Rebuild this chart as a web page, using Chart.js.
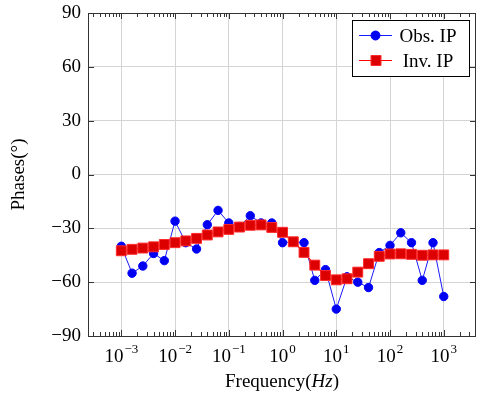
<!DOCTYPE html>
<html>
<head>
<meta charset="utf-8">
<script src="https://cdn.jsdelivr.net/npm/chart.js@4"></script>
<style>
  html, body { margin: 0; padding: 0; background: #fff; }
</style>
</head>
<body>
<canvas id="phaseChart" width="477" height="394"></canvas>
<script>
// frequencies (Hz), 5 per decade
var freq = [0.001, 0.001585, 0.002512, 0.003981, 0.00631,
            0.01, 0.01585, 0.02512, 0.03981, 0.0631,
            0.1, 0.1585, 0.2512, 0.3981, 0.631,
            1, 1.585, 2.512, 3.981, 6.31,
            10, 15.85, 25.12, 39.81, 63.1,
            100, 158.5, 251.2, 398.1, 631, 1000];
var obsPhase = [-40, -55, -51, -44, -48, -26, -38, -41.5, -28, -20,
                -27, -29, -23, -27, -27, -38, -37.5, -38, -59, -53,
                -75, -57, -60, -63, -43.5, -39.5, -32.5, -38, -59, -38, -68];
var invPhase = [-42.5, -41.7, -41, -40.3, -39, -38, -37, -35.6, -33.7, -32,
                -30.6, -29.3, -28.3, -28.1, -29.5, -32.2, -37.5, -43.4, -50.5, -56.3,
                -58.7, -58.1, -54.4, -49.7, -45.6, -44.3, -44.2, -44.5, -45, -44.8, -44.8];
var xDecades = [0.001, 0.01, 0.1, 1, 10, 100, 1000];
var xExponents = ['\u22123', '\u22122', '\u22121', '0', '1', '2', '3'];
var yTicks = [-90, -60, -30, 0, 30, 60, 90];

var FONT = '"Liberation Serif", "Times New Roman", serif';

function noPad(scale) {
  scale.paddingTop = 0;
  scale.paddingBottom = 0;
  scale.paddingLeft = 0;
  scale.paddingRight = 0;
}

var framePlugin = {
  id: 'frame',
  afterDraw: function (chart) {
    var ctx = chart.ctx;
    var a = chart.chartArea;
    var xs = chart.scales.x, ys = chart.scales.y;
    ctx.save();
    ctx.strokeStyle = '#333';
    ctx.lineWidth = 1;
    ctx.beginPath();
    // minor ticks on x (bottom and top, pointing in)
    for (var d = -4; d <= 3; d++) {
      for (var m = 2; m <= 9; m++) {
        var v = m * Math.pow(10, d);
        if (v < xs.min || v > xs.max) continue;
        var px = Math.round(xs.getPixelForValue(v)) + 0.5;
        ctx.moveTo(px, a.bottom); ctx.lineTo(px, a.bottom - 4);
        ctx.moveTo(px, a.top); ctx.lineTo(px, a.top + 4);
      }
    }
    xDecades.forEach(function (v) {
      var px = Math.round(xs.getPixelForValue(v)) + 0.5;
      ctx.moveTo(px, a.bottom); ctx.lineTo(px, a.bottom - 6);
      ctx.moveTo(px, a.top); ctx.lineTo(px, a.top + 6);
    });
    yTicks.forEach(function (v) {
      var py = Math.round(ys.getPixelForValue(v)) + 0.5;
      ctx.moveTo(a.left, py); ctx.lineTo(a.left + 6, py);
      ctx.moveTo(a.right, py); ctx.lineTo(a.right - 6, py);
    });
    ctx.stroke();
    ctx.strokeRect(Math.round(a.left) + 0.5, Math.round(a.top) + 0.5,
                   Math.round(a.right - a.left) - 1, Math.round(a.bottom - a.top));

    // x tick labels 10^n
    ctx.fillStyle = '#000';
    ctx.textBaseline = 'alphabetic';
    xDecades.forEach(function (v, i) {
      var px = xs.getPixelForValue(v);
      ctx.font = '19px ' + FONT;
      var wb = ctx.measureText('10').width;
      ctx.font = '13px ' + FONT;
      var we = ctx.measureText(xExponents[i]).width;
      var x0 = px - (wb + we + 1) / 2;
      ctx.font = '19px ' + FONT;
      ctx.textAlign = 'left';
      ctx.fillText('10', x0, 362);
      ctx.font = '13px ' + FONT;
      ctx.fillText(xExponents[i], x0 + wb + 1, 353);
    });

    // x title with italic Hz
    var parts = [['Frequency(', ''], ['Hz', 'italic '], [')', '']];
    var total = 0;
    parts.forEach(function (p) { ctx.font = p[1] + '19px ' + FONT; total += ctx.measureText(p[0]).width; });
    var cx = (a.left + a.right) / 2 - total / 2;
    parts.forEach(function (p) {
      ctx.font = p[1] + '19px ' + FONT;
      ctx.fillText(p[0], cx, 387);
      cx += ctx.measureText(p[0]).width;
    });

    // legend
    ctx.fillStyle = '#fff';
    ctx.fillRect(352.5, 20.5, 117, 56);
    ctx.strokeStyle = '#000';
    ctx.strokeRect(352.5, 20.5, 117, 56);
    chart.data.datasets.forEach(function (ds, i) {
      var ly = 35.5 + i * 25;
      ctx.strokeStyle = ds.borderColor;
      ctx.lineWidth = ds.borderWidth;
      ctx.beginPath();
      ctx.moveTo(359, ly); ctx.lineTo(392, ly);
      ctx.stroke();
      ctx.fillStyle = ds.pointBackgroundColor;
      ctx.strokeStyle = ds.pointBorderColor;
      ctx.lineWidth = 1;
      ctx.beginPath();
      if (ds.pointStyle === 'rect') {
        ctx.rect(371, ly - 5, 10, 10);
      } else {
        ctx.arc(375.5, ly, 4.5, 0, Math.PI * 2);
      }
      ctx.fill();
      ctx.stroke();
      ctx.fillStyle = '#000';
      ctx.font = '19px ' + FONT;
      ctx.textAlign = 'center';
      ctx.fillText(ds.label, 428, ly + 6);
    });
    ctx.restore();
  }
};

new Chart(document.getElementById('phaseChart'), {
  type: 'line',
  data: {
    datasets: [{
      label: 'Obs. IP',
      data: freq.map(function (f, i) { return { x: f, y: obsPhase[i] }; }),
      borderColor: '#1a1aff',
      borderWidth: 1,
      pointStyle: 'circle',
      pointRadius: 4.2,
      pointBackgroundColor: '#0000f0',
      pointBorderColor: '#0000ff',
      pointBorderWidth: 1,
      tension: 0,
      order: 1
    }, {
      label: 'Inv. IP',
      data: freq.map(function (f, i) { return { x: f, y: invPhase[i] }; }),
      borderColor: '#ff0000',
      borderWidth: 1.2,
      pointStyle: 'rect',
      pointRadius: 7,
      pointBackgroundColor: '#dd0000',
      pointBorderColor: '#ff2a2a',
      pointBorderWidth: 1,
      tension: 0,
      order: 0
    }]
  },
  options: {
    responsive: false,
    animation: false,
    layout: { autoPadding: false, padding: { left: 0, right: 1, top: 13, bottom: 0 } },
    plugins: {
      legend: { display: false },
      tooltip: { enabled: false }
    },
    scales: {
      x: {
        type: 'logarithmic',
        min: Math.pow(10, -3.62),
        max: Math.pow(10, 3.6),
        afterBuildTicks: function (scale) {
          scale.ticks = xDecades.map(function (v) { return { value: v }; });
        },
        afterFit: function (scale) { scale.height = 58; noPad(scale); },
        ticks: { display: false },
        grid: { color: '#d4d4d4', drawTicks: false },
        border: { display: false }
      },
      y: {
        min: -90,
        max: 90,
        afterBuildTicks: function (scale) {
          scale.ticks = yTicks.map(function (v) { return { value: v }; });
        },
        afterFit: function (scale) { scale.width = 88; noPad(scale); },
        ticks: {
          color: '#000',
          padding: 7,
          font: { family: FONT, size: 19 },
          callback: function (v) { return v < 0 ? '\u2212' + Math.abs(v) : String(v); }
        },
        grid: { color: '#d4d4d4', drawTicks: false },
        border: { display: false },
        title: {
          display: true,
          text: 'Phases(\u00b0)',
          color: '#000',
          font: { family: FONT, size: 19 },
          padding: { top: 8, bottom: 0 }
        }
      }
    }
  },
  plugins: [framePlugin]
});
</script>
</body>
</html>
